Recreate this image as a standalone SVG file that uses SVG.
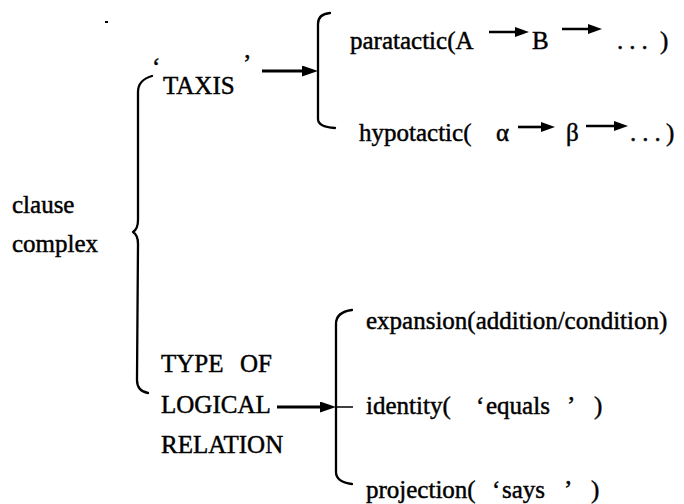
<svg xmlns="http://www.w3.org/2000/svg" width="684" height="504" viewBox="0 0 684 504">
<style>
  text { font-family: 'Liberation Serif', 'Times New Roman', Times, 'DejaVu Serif', serif; font-size: 25px; fill: #000; stroke: #000; stroke-width: 0.45; }
  .ln { fill: none; stroke: #000; stroke-width: 2.3; stroke-linecap: round; stroke-linejoin: round; }
  .ar { fill: none; stroke: #000; stroke-width: 3; }
  .arS { fill: none; stroke: #000; stroke-width: 2.6; }
</style>
<defs>
  <marker id="ah" viewBox="0 0 16 11" refX="8" refY="5.5" markerWidth="16" markerHeight="11" markerUnits="userSpaceOnUse" orient="auto">
    <path d="M0,0 L16,5.5 L0,11 z" fill="#000"/>
  </marker>
  <marker id="as" viewBox="0 0 14 10" refX="7" refY="5" markerWidth="14" markerHeight="10" markerUnits="userSpaceOnUse" orient="auto">
    <path d="M0,0 L14,5 L0,10 z" fill="#000"/>
  </marker>
</defs>
<rect x="105" y="21" width="3" height="2" fill="#000"/>
<g id="clause-complex">
  <text x="12" y="213">clause</text>
  <text x="12" y="252">complex</text>
</g>
<g id="taxis">
  <text x="152" y="75" font-size="30">‘</text>
  <text x="163" y="94">TAXIS</text>
  <text x="243" y="72" font-size="30">’</text>
</g>
<g id="paratactic">
  <text x="350" y="49">paratactic(A</text>
  <text x="532" y="49">B</text>
  <text x="617" y="49" letter-spacing="6">...</text>
  <text x="660" y="49">)</text>
</g>
<g id="hypotactic">
  <text x="359" y="141">hypotactic(</text>
  <text x="496" y="141">α</text>
  <text x="566" y="141">β</text>
  <text x="630" y="141" letter-spacing="6">...</text>
  <text x="666" y="141">)</text>
</g>
<g id="logical-relation">
  <text x="161" y="372">TYPE</text>
  <text x="240" y="372">OF</text>
  <text x="161" y="413">LOGICAL</text>
  <text x="161" y="453">RELATION</text>
</g>
<g id="expansion">
  <text x="366" y="329">expansion(addition/condition)</text>
</g>
<g id="identity">
  <text x="366" y="414">identity(</text>
  <text x="476" y="414">‘</text>
  <text x="486" y="414">equals</text>
  <text x="567" y="414">’</text>
  <text x="594" y="414">)</text>
</g>
<g id="projection">
  <text x="366" y="498">projection(</text>
  <text x="492" y="498">‘</text>
  <text x="502" y="498">says</text>
  <text x="564" y="498">’</text>
  <text x="591" y="498">)</text>
</g>
<g id="connectors">
  <path class="ln" d="M152,76 Q138,80 138,92 L138,220 Q138,229 133,232 Q138,235 138,244 L137,380 Q137,391 148,393"/>
  <path class="ln" d="M330,13 Q318,14 318,24 L318,119 Q318,127 335,128"/>
  <path class="ln" d="M352,310 Q336,312 336,324 L336,472 Q336,482 352,484"/>
  <path d="M337,407 L353,407" stroke="#000" stroke-width="1.5"/>
  <line class="ar" x1="262" y1="71" x2="310" y2="71" marker-end="url(#ah)"/>
  <line class="ar" x1="277" y1="407" x2="328" y2="407" marker-end="url(#ah)"/>
  <line class="arS" x1="489" y1="32" x2="522" y2="32" marker-end="url(#as)"/>
  <line class="arS" x1="562" y1="29" x2="595" y2="29" marker-end="url(#as)"/>
  <line class="arS" x1="518" y1="127" x2="548" y2="127" marker-end="url(#as)"/>
  <line class="arS" x1="586" y1="126" x2="621" y2="126" marker-end="url(#as)"/>
</g>
</svg>
